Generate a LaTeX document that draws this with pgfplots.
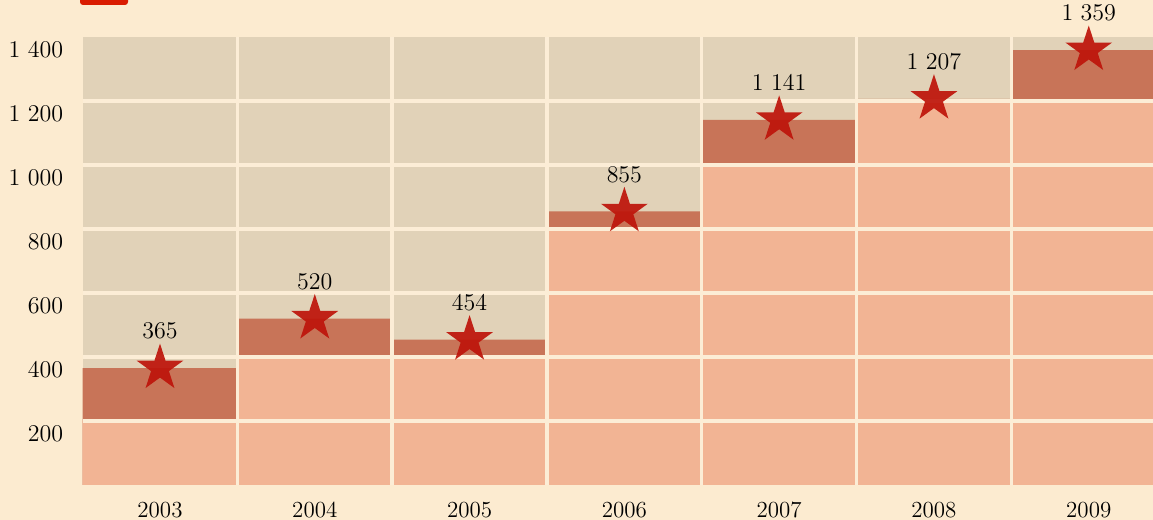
\documentclass[border=0pt]{standalone}
\usepackage{pgfplots}
\usepackage{pgfplotstable}
\pgfplotsset{compat=1.18}
\definecolor{bg}{HTML}{FCEBD0}
\definecolor{tile}{HTML}{E1D2B8}
\definecolor{salmon}{HTML}{F2B494}
\definecolor{dark}{HTML}{C87458}
\definecolor{starred}{HTML}{BE140A}
\definecolor{gridc}{HTML}{FCEDD6}
\pgfdeclareplotmark{fstar}{%
  \pgfpathmoveto{\pgfpointpolar{90}{\pgfplotmarksize}}%
  \pgfpathlineto{\pgfpointpolar{126}{0.382*\pgfplotmarksize}}%
  \pgfpathlineto{\pgfpointpolar{162}{\pgfplotmarksize}}%
  \pgfpathlineto{\pgfpointpolar{198}{0.382*\pgfplotmarksize}}%
  \pgfpathlineto{\pgfpointpolar{234}{\pgfplotmarksize}}%
  \pgfpathlineto{\pgfpointpolar{270}{0.382*\pgfplotmarksize}}%
  \pgfpathlineto{\pgfpointpolar{306}{\pgfplotmarksize}}%
  \pgfpathlineto{\pgfpointpolar{342}{0.382*\pgfplotmarksize}}%
  \pgfpathlineto{\pgfpointpolar{18}{\pgfplotmarksize}}%
  \pgfpathlineto{\pgfpointpolar{54}{0.382*\pgfplotmarksize}}%
  \pgfpathclose\pgfusepathqfill}
\pgfplotstableread{
x base val
0 200 365
1 400 520
2 400 454
3 800 855
4 1000 1141
5 1200 1207
6 1200 1359
}\datatable
\begin{document}
\begin{tikzpicture}
\fill[bg] (-41.3pt,-17.5pt) rectangle (535.2pt,242.5pt);
\fill[red!75!orange!85!black, rounded corners=1.5pt] (-1.3pt,240pt) rectangle (22.7pt,245pt);
\begin{axis}[
  at={(0,0)}, anchor=south west,
  scale only axis, width=535.2pt, height=224pt,
  xmin=-0.5, xmax=6.415, ymin=0, ymax=1400,
  axis background/.style={fill=tile},
  axis line style={draw=none}, major tick length=0pt,
  xtick={0,...,6}, xticklabels={2003,2004,2005,2006,2007,2008,2009},
  ytick={200,400,...,1400},
  /pgf/number format/1000 sep={\ },
  tick label style={font=\fontsize{11.5}{13}\selectfont},
  xticklabel style={inner sep=0pt, yshift=-8.5pt},
  yticklabel style={inner sep=0pt, anchor=north east, xshift=-9.5pt, yshift=-2.5pt},
]
\addplot[ybar, bar width=1, bar shift=0pt, fill=dark, draw=none] table[x=x,y=val]{\datatable};
\addplot[ybar, bar width=1, bar shift=0pt, fill=salmon, draw=none] table[x=x,y=base]{\datatable};
\pgfplotsinvokeforeach{200,400,600,800,1000,1200}{
  \draw[gridc, line width=1.9pt] (axis cs:-0.5,#1) -- (axis cs:6.5,#1);
}
\pgfplotsinvokeforeach{0.5,1.5,2.5,3.5,4.5,5.5}{
  \draw[gridc, line width=1.7pt] (axis cs:#1,0) -- (axis cs:#1,1400);
}
\addplot[only marks, mark=fstar, mark size=12.3pt, color=starred, fill opacity=0.92,
  nodes near coords, point meta=y,
  every node near coord/.append style={anchor=center, yshift=18.5pt, text=black, fill opacity=1, text opacity=1, font=\fontsize{11.5}{13}\selectfont}
] table[x=x,y=val]{\datatable};
\end{axis}
\pgfresetboundingbox
\useasboundingbox (-41.3pt,-17.5pt) rectangle (535.2pt,242.5pt);
\end{tikzpicture}
\end{document}
